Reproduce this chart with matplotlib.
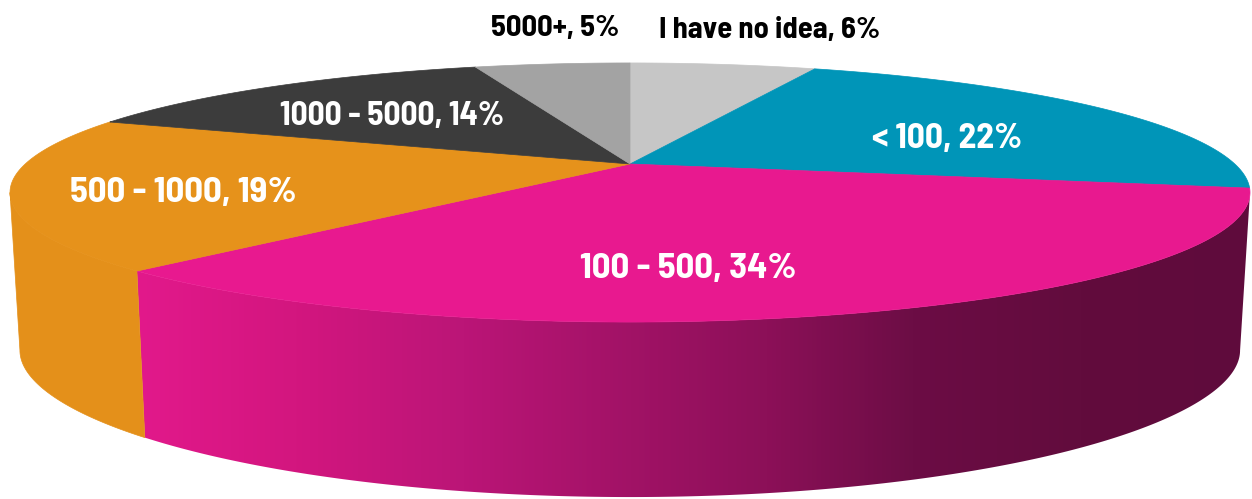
import numpy as np
import matplotlib.pyplot as plt
from matplotlib.patches import Polygon
from matplotlib.colors import LinearSegmentedColormap

# Survey answers, clockwise from 12 o'clock
labels = ['I have no idea', '< 100', '100 - 500', '500 - 1000', '1000 - 5000', '5000+']
shares = [6, 22, 34, 19, 14, 5]
colors = ['#c6c6c6', '#0095b8', '#e8198f', '#e6921b', '#3c3c3c', '#a3a3a3']
side_colors = [None, '#006f8a', 'gradient', '#e4901a', '#2a2a2a', '#7d7d7d']

# label placement in pixel coords: (x centre, baseline, size, colour)
label_pos = [
    (770, 38, 22, 'black'),
    (947, 148, 25.5, 'white'),
    (688, 278, 26.5, 'white'),
    (183, 202, 26.5, 'white'),
    (392, 125, 24, 'white'),
    (555, 36, 22, 'black'),
]

plt.rcParams['font.family'] = ['Barlow Semi Condensed', 'DejaVu Sans']

# perspective of the pie top (pixel space, y down)
CX, CY = 630, 164
A, B, K = 604.8, 87.2, -0.22
XS = 0.984          # bottom rim slightly narrower


def rim(theta):
    u = np.sin(theta)
    v = -np.cos(theta)
    w = 1 + K * v
    return CX + A * u / w, (CY + B * v) / w, v


def rim_bottom(theta):
    x, y, v = rim(theta)
    return CX + (x - CX) * XS, y + 157 + 18 * v ** 2


fig = plt.figure(figsize=(12.52, 4.99), dpi=100)
ax = fig.add_axes([0, 0, 1, 1])
ax.set_xlim(0, 1252)
ax.set_ylim(499, 0)
ax.axis('off')

edges = np.deg2rad(np.concatenate([[0], np.cumsum(shares)]) * 3.6)
vis_lo, vis_hi = np.deg2rad(102.7), np.deg2rad(257.3)

pink_cmap = LinearSegmentedColormap.from_list('pink_side', [
    (0.0, '#e3198c'), (0.15, '#d3167f'), (0.30, '#bb1577'),
    (0.57, '#8c1058'), (0.70, '#6c0d45'), (0.85, '#620c3d'), (1.0, '#5f0b3c')])

# visible side walls
for i in range(len(shares)):
    a, b = max(edges[i], vis_lo), min(edges[i + 1], vis_hi)
    if b <= a:
        continue
    t = np.linspace(a, b, 200)
    xt, yt, _ = rim(t)
    xb, yb = rim_bottom(t[::-1])
    pts = np.column_stack([np.concatenate([xt, xb]), np.concatenate([yt, yb])])
    if side_colors[i] == 'gradient':
        poly = Polygon(pts, closed=True, facecolor='none', edgecolor='none')
        ax.add_patch(poly)
        grad = np.linspace(0, 1, 512).reshape(1, -1)
        im = ax.imshow(grad, cmap=pink_cmap, aspect='auto',
                       extent=[125, 1252, 499, 150], zorder=1)
        im.set_clip_path(poly)
    else:
        ax.add_patch(Polygon(pts, closed=True, facecolor=side_colors[i],
                             edgecolor=side_colors[i], lw=0.5, zorder=1))

# top face slices
for i in range(len(shares)):
    t = np.linspace(edges[i], edges[i + 1], 200)
    xt, yt, _ = rim(t)
    pts = np.column_stack([np.concatenate([[CX], xt]), np.concatenate([[CY], yt])])
    ax.add_patch(Polygon(pts, closed=True, facecolor=colors[i],
                         edgecolor=colors[i], lw=0.5, zorder=2))

for lab, pct, (x, y, size, col) in zip(labels, shares, label_pos):
    ax.text(x, y, f'{lab}, {pct}%', ha='center', va='baseline',
            fontsize=size, fontweight='bold', color=col, zorder=3)

fig.savefig('out.png', dpi=100)
